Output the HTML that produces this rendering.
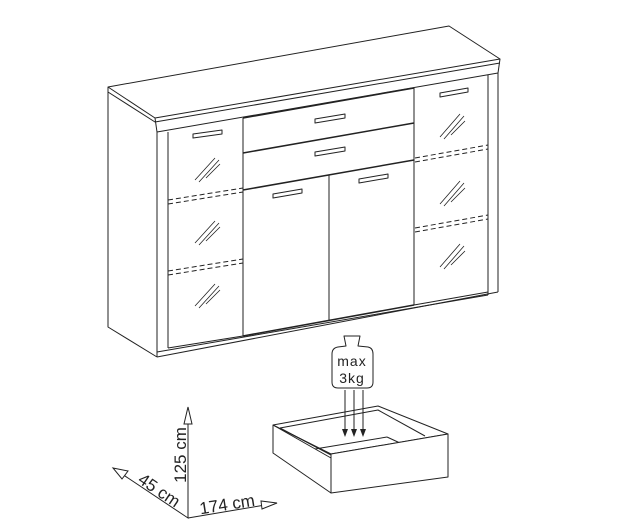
<!DOCTYPE html>
<html><head><style>html,body{margin:0;padding:0;background:#fff}svg{display:block}</style></head><body>
<svg width="620" height="524" viewBox="0 0 620 524" xmlns="http://www.w3.org/2000/svg" font-family="Liberation Sans, sans-serif">
<g fill="none" stroke="#222" stroke-width="1" stroke-linejoin="round">
<polygon points="108,87 449,26 500,59 155,118" fill="#fff"/>
<polyline points="108,87 108,92 155,122 500,63"/>
<polyline points="155,118 157,132 498,73 500,59"/>
<polyline points="108,92 108,327 157,357"/>
<line x1="157" y1="132" x2="157" y2="357"/>
<line x1="498" y1="73" x2="498" y2="292"/>
<line x1="157" y1="357" x2="498" y2="292"/>
<line x1="157" y1="352" x2="488" y2="295"/>
<line x1="168" y1="132" x2="168" y2="348"/>
<line x1="488" y1="75" x2="488" y2="295"/>
<line x1="168" y1="348" x2="243" y2="336"/>
<line x1="243" y1="118" x2="243" y2="336"/>
<line x1="243" y1="336" x2="414" y2="305" stroke-width="1.5"/>
<line x1="243" y1="153" x2="414" y2="123" stroke-width="1.5"/>
<line x1="243" y1="190" x2="414" y2="160" stroke-width="1.5"/>
<line x1="243" y1="118" x2="414" y2="88" stroke-width="1.5"/>
<line x1="329" y1="175" x2="329" y2="320"/>
<line x1="414" y1="88" x2="414" y2="305"/>
<line x1="414" y1="305" x2="488" y2="292"/>
<g stroke-dasharray="5,3">
<line x1="168" y1="200" x2="243" y2="188"/><line x1="168" y1="204" x2="243" y2="192"/>
<line x1="168" y1="271" x2="243" y2="259"/><line x1="168" y1="275" x2="243" y2="263"/>
<line x1="415" y1="158" x2="488" y2="145"/><line x1="415" y1="162" x2="488" y2="149"/>
<line x1="415" y1="228" x2="488" y2="215"/><line x1="415" y1="232" x2="488" y2="219"/>
</g>
<g stroke-width="0.8">
<path d="M195,180 L215,158 M199,182 L219,160 M206,178 L220,164"/>
<path d="M195,243 L215,221 M199,245 L219,223 M206,241 L220,227"/>
<path d="M195,306 L215,284 M199,308 L219,286 M206,304 L220,290"/>
<path d="M440,137 L460,114 M444,139 L464,116 M451,135 L465,121"/>
<path d="M440,204 L460,181 M444,206 L464,183 M451,202 L465,188"/>
<path d="M440,267 L460,244 M444,269 L464,246 M451,265 L465,251"/>
</g>
<g stroke-width="1">
<path d="M193,134 L222,130 L222,134 L193,138 Z"/>
<path d="M315,119 L345,114 L345,118 L315,123 Z"/>
<path d="M315,152 L345,147 L345,151 L315,156 Z"/>
<path d="M273,194 L302,189 L302,193 L273,198 Z"/>
<path d="M359,179 L388,174 L388,178 L359,183 Z"/>
<path d="M440,93 L468,88 L468,92 L440,97 Z"/>
</g>
<path d="M344,336 L360,336 L358,346 L368,347 Q373,348 373,354 L373,382 Q373,388 367,388 L338,388 Q332,388 332,382 L332,354 Q332,348 338,347 L346,346 Z" fill="#fff"/>
<polygon points="273,425 378,406 448,434 331,454"/>
<polyline points="280,428 378,410 425,436"/>
<polyline points="273,425 273,453 331,493"/>
<line x1="273" y1="425" x2="331" y2="458"/>
<line x1="280" y1="428" x2="331" y2="455"/>
<line x1="315" y1="449" x2="387" y2="437"/>
<line x1="387" y1="437" x2="400" y2="443"/>
<polygon points="331,454 448,434 448,477 331,493" fill="#fff"/>
<line x1="345" y1="390" x2="345" y2="430"/>
<line x1="354" y1="390" x2="354" y2="430"/>
<line x1="363" y1="390" x2="363" y2="430"/>
</g>
<g fill="#222">
<polygon points="342,429 348,429 345,437"/>
<polygon points="351,429 357,429 354,437"/>
<polygon points="360,429 366,429 363,437"/>
</g>
<text x="352" y="366" font-size="14" text-anchor="middle" fill="#222" letter-spacing="1">max</text>
<text x="352" y="383" font-size="14" text-anchor="middle" fill="#222" letter-spacing="1">3kg</text>
<g fill="none" stroke="#222" stroke-width="1">
<polyline points="113,468 188,518 188,407"/>
<line x1="188" y1="518" x2="277" y2="503"/>
<polygon points="188,407 184,424 192,424" fill="#fff"/>
<polygon points="113,468 128,471 122,479" fill="#fff"/>
<polygon points="277,503 261,501 262,509" fill="#fff"/>
</g>
<text x="0" y="0" font-size="17" fill="#222" text-anchor="middle" transform="translate(186,455) rotate(-90)">125 cm</text>
<text x="0" y="0" font-size="17" fill="#222" text-anchor="middle" transform="translate(156,495) rotate(34)">45 cm</text>
<text x="0" y="0" font-size="17" fill="#222" text-anchor="middle" transform="translate(228,510) rotate(-9)">174 cm</text>
</svg>
</body></html>
